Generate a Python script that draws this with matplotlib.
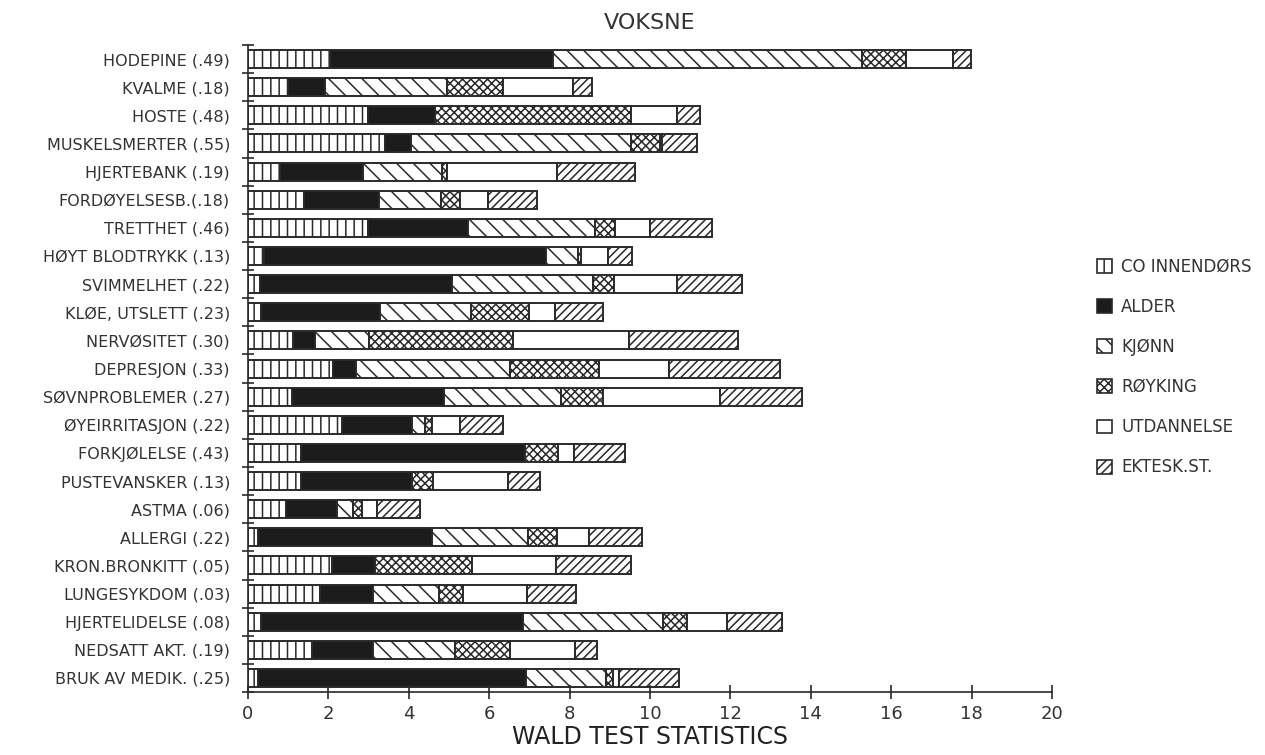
import numpy as np
import matplotlib.pyplot as plt
from matplotlib.patches import Patch

plt.rcParams['font.family'] = ['DejaVu Sans']
plt.rcParams['hatch.linewidth'] = 1.1

tekst = '#333333'
kant = '#2a2a2a'

sykdommer = ["HODEPINE (.49)", "KVALME (.18)", "HOSTE (.48)", "MUSKELSMERTER (.55)",
             "HJERTEBANK (.19)", "FORDØYELSESB.(.18)", "TRETTHET (.46)", "HØYT BLODTRYKK (.13)",
             "SVIMMELHET (.22)", "KLØE, UTSLETT (.23)", "NERVØSITET (.30)", "DEPRESJON (.33)",
             "SØVNPROBLEMER (.27)", "ØYEIRRITASJON (.22)", "FORKJØLELSE (.43)", "PUSTEVANSKER (.13)",
             "ASTMA (.06)", "ALLERGI (.22)", "KRON.BRONKITT (.05)", "LUNGESYKDOM (.03)",
             "HJERTELIDELSE (.08)", "NEDSATT AKT. (.19)", "BRUK AV MEDIK. (.25)"]

serier = ["CO INNENDØRS", "ALDER", "KJØNN", "RØYKING", "UTDANNELSE", "EKTESK.ST."]

co_innendors = [2.04, 1.00, 2.99, 3.41, 0.80, 1.39, 2.99, 0.40, 0.30, 0.32, 1.12, 2.11,
                1.09, 2.34, 1.32, 1.32, 0.95, 0.25, 2.09, 1.79, 0.32, 1.59, 0.25]
alder = [5.55, 0.92, 1.66, 0.64, 2.06, 1.87, 2.48, 7.01, 4.77, 2.96, 0.55, 0.58,
         3.79, 1.74, 5.57, 2.76, 1.26, 4.33, 1.07, 1.32, 6.52, 1.52, 6.67]
kjonn = [7.68, 3.03, 0.00, 5.48, 1.97, 1.54, 3.16, 0.80, 3.51, 2.27, 1.34, 3.83,
         2.91, 0.32, 0.00, 0.00, 0.40, 2.39, 0.00, 1.64, 3.48, 2.04, 1.99]
royking = [1.10, 1.39, 4.88, 0.72, 0.12, 0.47, 0.50, 0.07, 0.52, 1.44, 3.58, 2.21,
           1.04, 0.18, 0.82, 0.52, 0.23, 0.72, 2.41, 0.60, 0.60, 1.37, 0.17]
utdannelse = [1.17, 1.74, 1.14, 0.05, 2.74, 0.70, 0.87, 0.68, 1.57, 0.65, 2.89, 1.74,
              2.91, 0.69, 0.40, 1.87, 0.37, 0.79, 2.09, 1.59, 1.00, 1.61, 0.15]
ektesk = [0.45, 0.48, 0.57, 0.87, 1.94, 1.22, 1.54, 0.59, 1.62, 1.19, 2.71, 2.76,
          2.04, 1.07, 1.27, 0.79, 1.07, 1.32, 1.87, 1.22, 1.36, 0.55, 1.49]

verdier = [co_innendors, alder, kjonn, royking, utdannelse, ektesk]
stiler = [('white', '||'), ('#1c1c1c', ''), ('white', '\\\\'),
          ('white', 'xxxx'), ('white', ''), ('white', '////')]

fig = plt.figure(figsize=(12.65, 7.55), dpi=100)
ax = fig.add_axes([0.196, 0.0834, 0.6356, 0.857])

y = np.arange(len(sykdommer))
venstre = np.zeros(len(sykdommer))
for navn, vals, (farge, hatch) in zip(serier, verdier, stiler):
    vals = np.array(vals)
    ax.barh(y, vals, left=venstre, height=0.64, color=farge, hatch=hatch,
            edgecolor=kant, linewidth=1.4, label=navn)
    venstre += vals

ax.set_xlim(0, 20)
ax.set_ylim(len(sykdommer) - 0.5, -0.5)
ax.set_xticks(np.arange(0, 21, 2))
ax.set_yticks(y)
ax.set_yticklabels(sykdommer)
ax.set_yticks(np.arange(-0.5, len(sykdommer), 1), minor=True)

for s in ['top', 'right']:
    ax.spines[s].set_visible(False)
for s in ['left', 'bottom']:
    ax.spines[s].set_color(kant)
    ax.spines[s].set_linewidth(1.2)

ax.tick_params(axis='y', which='major', length=0, pad=13, labelsize=11.5, labelcolor=tekst)
ax.tick_params(axis='y', which='minor', direction='inout', length=9, width=1.2, color=kant)
ax.tick_params(axis='x', direction='inout', length=10, width=1.2, color=kant,
               pad=4, labelsize=13, labelcolor=tekst)

ax.set_xlabel('WALD TEST STATISTICS', fontsize=17, color='#222222', labelpad=2)
fig.text(0.5138, 1 - 23 / 755, 'VOKSNE', ha='center', va='center', fontsize=16, color=tekst)

handles = [Patch(facecolor=f, hatch=h, edgecolor=kant, linewidth=1.2) for f, h in stiler]
fig.legend(handles, serier, loc='center left', bbox_to_anchor=(1097 / 1265, 1 - 367 / 755),
           frameon=False, fontsize=12, handlelength=0.9, handleheight=0.9,
           handletextpad=0.55, labelspacing=1.33, borderpad=0, borderaxespad=0,
           labelcolor=tekst)

fig.savefig('out.png', dpi=100)
